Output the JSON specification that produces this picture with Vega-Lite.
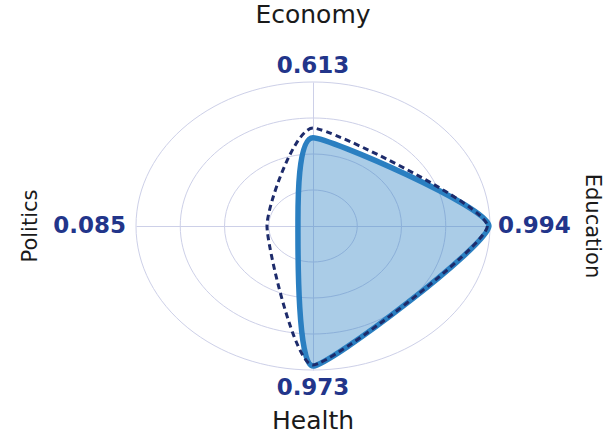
{
  "$schema": "https://vega.github.io/schema/vega-lite/v6.json",
  "width": 354,
  "height": 288,
  "autosize": {"type": "none"},
  "padding": {"left": 136, "top": 82, "right": 118, "bottom": 67},
  "background": "white",
  "config": {"view": {"stroke": null}},
  "datasets": {
    "rings": [{"ring": 0.25}, {"ring": 0.5}, {"ring": 0.75}, {"ring": 1}],
    "shape": [
      {"series": "Actual", "k": 1, "axis": "Economy", "x": 0, "y": 0.613},
      {"series": "Actual", "k": 2, "axis": "Education", "x": 0.994, "y": 0},
      {"series": "Actual", "k": 3, "axis": "Health", "x": 0, "y": -0.973},
      {"series": "Actual", "k": 4, "axis": "Politics", "x": -0.085, "y": 0},
      {"series": "Reference", "k": 1, "axis": "Economy", "x": 0, "y": 0.68},
      {"series": "Reference", "k": 2, "axis": "Education", "x": 0.985, "y": 0},
      {"series": "Reference", "k": 3, "axis": "Health", "x": 0, "y": -0.965},
      {"series": "Reference", "k": 4, "axis": "Politics", "x": -0.26, "y": 0}
    ],
    "labels": [
      {"axis": "Economy", "value": "0.613", "ex": 0, "ey": 1},
      {"axis": "Education", "value": "0.994", "ex": 1, "ey": 0},
      {"axis": "Health", "value": "0.973", "ex": 0, "ey": -1},
      {"axis": "Politics", "value": "0.085", "ex": -1, "ey": 0}
    ]
  },
  "layer": [
    {
      "data": {"name": "rings"},
      "mark": {
        "type": "point",
        "shape": "M -1 0 A 1 0.8136 0 1 1 1 0 A 1 0.8136 0 1 1 -1 0 Z",
        "filled": false,
        "stroke": "#cdd0e8",
        "strokeWidth": 1,
        "opacity": 1
      },
      "encoding": {
        "x": {
          "datum": 0,
          "type": "quantitative",
          "scale": {"domain": [-1, 1], "nice": false, "zero": false},
          "axis": {"values": [0], "grid": true, "gridColor": "#cdd0e8", "gridWidth": 1, "domain": false, "ticks": false, "labels": false, "title": null}
        },
        "y": {
          "datum": 0,
          "type": "quantitative",
          "scale": {"domain": [-1, 1], "nice": false, "zero": false},
          "axis": {"values": [0], "grid": true, "gridColor": "#cdd0e8", "gridWidth": 1, "domain": false, "ticks": false, "labels": false, "title": null}
        },
        "size": {
          "field": "ring",
          "type": "quantitative",
          "scale": {"type": "pow", "exponent": 2, "domain": [0, 1], "range": [0, 125316]},
          "legend": null
        }
      }
    },
    {
      "data": {"name": "shape"},
      "transform": [{"filter": "datum.series === 'Actual'"}],
      "mark": {
        "type": "line",
        "interpolate": "cardinal-closed",
        "tension": 0.5,
        "fill": "#2b7fc4",
        "fillOpacity": 0.4,
        "stroke": "#2a7fc1",
        "strokeWidth": 5.5,
        "strokeJoin": "round"
      },
      "encoding": {
        "x": {"field": "x", "type": "quantitative"},
        "y": {"field": "y", "type": "quantitative"},
        "order": {"field": "k"}
      }
    },
    {
      "data": {"name": "shape"},
      "transform": [{"filter": "datum.series === 'Reference'"}],
      "mark": {
        "type": "line",
        "interpolate": "cardinal-closed",
        "tension": 0.5,
        "stroke": "#1d2b6b",
        "strokeWidth": 3,
        "strokeDash": [6, 4],
        "strokeJoin": "round"
      },
      "encoding": {
        "x": {"field": "x", "type": "quantitative"},
        "y": {"field": "y", "type": "quantitative"},
        "order": {"field": "k"}
      }
    },
    {
      "data": {"name": "labels"},
      "transform": [{"filter": "datum.axis === 'Economy'"}],
      "layer": [
        {"mark": {"type": "text", "dy": -67, "font": "DejaVu Sans", "fontSize": 25, "color": "#1a1a1a", "baseline": "middle", "align": "center"},
         "encoding": {"x": {"field": "ex", "type": "quantitative"}, "y": {"field": "ey", "type": "quantitative"}, "text": {"field": "axis"}}},
        {"mark": {"type": "text", "dy": -16, "font": "DejaVu Sans", "fontWeight": "bold", "fontSize": 23, "color": "#22358a", "baseline": "middle", "align": "center"},
         "encoding": {"x": {"field": "ex", "type": "quantitative"}, "y": {"field": "ey", "type": "quantitative"}, "text": {"field": "value"}}}
      ]
    },
    {
      "data": {"name": "labels"},
      "transform": [{"filter": "datum.axis === 'Health'"}],
      "layer": [
        {"mark": {"type": "text", "dy": 51, "font": "DejaVu Sans", "fontSize": 25, "color": "#1a1a1a", "baseline": "middle", "align": "center"},
         "encoding": {"x": {"field": "ex", "type": "quantitative"}, "y": {"field": "ey", "type": "quantitative"}, "text": {"field": "axis"}}},
        {"mark": {"type": "text", "dy": 18, "font": "DejaVu Sans", "fontWeight": "bold", "fontSize": 23, "color": "#22358a", "baseline": "middle", "align": "center"},
         "encoding": {"x": {"field": "ex", "type": "quantitative"}, "y": {"field": "ey", "type": "quantitative"}, "text": {"field": "value"}}}
      ]
    },
    {
      "data": {"name": "labels"},
      "transform": [{"filter": "datum.axis === 'Education'"}],
      "layer": [
        {"mark": {"type": "text", "angle": 90, "dy": -102, "font": "DejaVu Sans", "fontSize": 21, "color": "#1a1a1a", "baseline": "middle", "align": "center"},
         "encoding": {"x": {"field": "ex", "type": "quantitative"}, "y": {"field": "ey", "type": "quantitative"}, "text": {"field": "axis"}}},
        {"mark": {"type": "text", "dx": 8, "font": "DejaVu Sans", "fontWeight": "bold", "fontSize": 23, "color": "#22358a", "baseline": "middle", "align": "left"},
         "encoding": {"x": {"field": "ex", "type": "quantitative"}, "y": {"field": "ey", "type": "quantitative"}, "text": {"field": "value"}}}
      ]
    },
    {
      "data": {"name": "labels"},
      "transform": [{"filter": "datum.axis === 'Politics'"}],
      "layer": [
        {"mark": {"type": "text", "angle": 270, "dy": -105, "font": "DejaVu Sans", "fontSize": 21, "color": "#1a1a1a", "baseline": "middle", "align": "center"},
         "encoding": {"x": {"field": "ex", "type": "quantitative"}, "y": {"field": "ey", "type": "quantitative"}, "text": {"field": "axis"}}},
        {"mark": {"type": "text", "dx": -10, "font": "DejaVu Sans", "fontWeight": "bold", "fontSize": 23, "color": "#22358a", "baseline": "middle", "align": "right"},
         "encoding": {"x": {"field": "ex", "type": "quantitative"}, "y": {"field": "ey", "type": "quantitative"}, "text": {"field": "value"}}}
      ]
    }
  ]
}
